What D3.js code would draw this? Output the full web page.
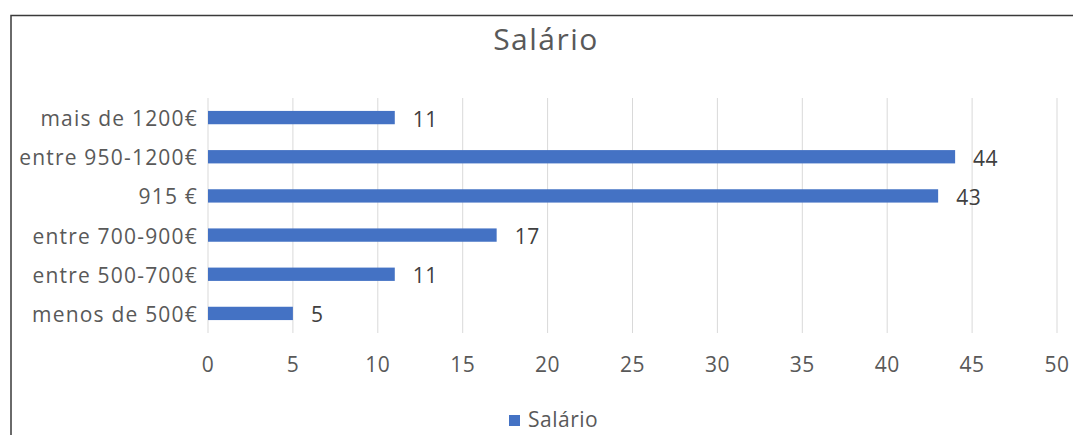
<!DOCTYPE html>
<html>
<head>
<meta charset="utf-8">
<script src="https://cdn.jsdelivr.net/npm/d3@7"></script>
<style>
  body { margin: 0; background: #fff; }
  svg { display: block; font-family: "Open Sans", sans-serif; }
  .grid line { stroke: #d9d9d9; stroke-width: 1; }
  .tick-label { fill: #595959; font-size: 21px; }
</style>
</head>
<body>
<svg id="chart" width="1073" height="435"></svg>
<script>
// Salário — barras horizontais

const categories = ["mais de 1200€", "entre 950-1200€", "915 €", "entre 700-900€", "entre 500-700€", "menos de 500€"];
const values = [11, 44, 43, 17, 11, 5];
const xTicks = [0, 5, 10, 15, 20, 25, 30, 35, 40, 45, 50];
const seriesName = "Salário";

const barColor = "#4472c4";

const svg = d3.select("#chart");

// moldura do gráfico
svg.append("path")
    .attr("d", "M11,435 V15.5 H1073")
    .attr("fill", "none")
    .attr("stroke", "#3a3a3a")
    .attr("stroke-width", 1.5);

svg.append("text")
    .attr("x", 546).attr("y", 50)
    .attr("text-anchor", "middle")
    .attr("fill", "#595959")
    .attr("font-size", 30)
    .attr("letter-spacing", 1.5)
    .text("Salário");

const x = d3.scaleLinear().domain([0, 50]).range([208, 1057]);
const y = d3.scaleBand().domain(categories).range([98, 333]).paddingInner(0.66).paddingOuter(0.33);

// grelha vertical
svg.append("g").attr("class", "grid")
    .selectAll("line")
    .data(xTicks).enter().append("line")
    .attr("x1", d => x(d)).attr("x2", d => x(d))
    .attr("y1", 98).attr("y2", 333);

// eixo x (só rótulos)
svg.append("g")
    .selectAll("text")
    .data(xTicks).enter().append("text")
    .attr("class", "tick-label")
    .attr("x", d => x(d)).attr("y", 372)
    .attr("text-anchor", "middle")
    .attr("letter-spacing", 0.5)
    .text(d => d);

// eixo y (categorias)
svg.append("g")
    .selectAll("text")
    .data(categories).enter().append("text")
    .attr("class", "tick-label")
    .attr("x", 198)
    .attr("y", d => y(d) + y.bandwidth() / 2 + 8.5)
    .attr("text-anchor", "end")
    .attr("letter-spacing", 1.2)
    .text(d => d);

// barras
svg.append("g")
    .selectAll("rect")
    .data(values).enter().append("rect")
    .attr("x", x(0))
    .attr("y", (d, i) => y(categories[i]))
    .attr("width", d => x(d) - x(0))
    .attr("height", y.bandwidth())
    .attr("fill", barColor);

// rótulos de dados
svg.append("g")
    .selectAll("text")
    .data(values).enter().append("text")
    .attr("x", d => x(d) + 18)
    .attr("y", (d, i) => y(categories[i]) + y.bandwidth() / 2 + 9)
    .attr("fill", "#404040")
    .attr("font-size", 21)
    .attr("letter-spacing", 0.5)
    .text(d => d);

// legenda
const leg = svg.append("g").attr("transform", "translate(509,415)");
leg.append("rect").attr("width", 11).attr("height", 11).attr("fill", barColor);
leg.append("text")
    .attr("x", 19).attr("y", 12)
    .attr("fill", "#595959").attr("font-size", 21)
    .attr("letter-spacing", 0.5)
    .text(seriesName);
</script>
</body>
</html>
